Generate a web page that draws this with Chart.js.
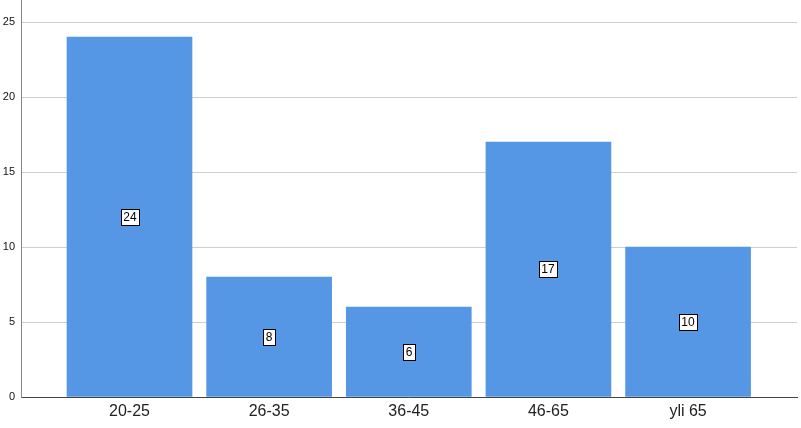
<!DOCTYPE html>
<html>
<head>
<meta charset="utf-8">
<script src="https://cdn.jsdelivr.net/npm/chart.js@4/dist/chart.umd.min.js"></script>
<style>
  html, body { margin: 0; padding: 0; background: #fff; }
  #wrap { width: 801px; height: 428px; }
</style>
</head>
<body>
<div id="wrap"><canvas id="chart" width="801" height="428"></canvas></div>
<script>
"use strict";
// age groups and counts
const categories = ['20-25', '26-35', '36-45', '46-65', 'yli 65'];
const counts = [24, 8, 6, 17, 10];
const yTicks = [0, 5, 10, 15, 20, 25];

// label in the middle of each bar: white box with black border
const boxLabels = {
  id: 'boxLabels',
  afterDatasetsDraw(chart) {
    const ctx = chart.ctx;
    const meta = chart.getDatasetMeta(0);
    const area = chart.chartArea;
    ctx.save();
    // y axis line runs up to the top edge
    ctx.strokeStyle = '#888';
    ctx.lineWidth = 1;
    ctx.beginPath();
    ctx.moveTo(Math.round(area.left) + 0.5, 0);
    ctx.lineTo(Math.round(area.left) + 0.5, area.top + 1);
    ctx.stroke();

    ctx.font = '12px "Liberation Sans", Arial, sans-serif';
    ctx.textAlign = 'center';
    ctx.textBaseline = 'middle';
    meta.data.forEach((bar, i) => {
      const txt = String(counts[i]);
      const cx = Math.round(bar.x);
      const cy = Math.round((bar.y + bar.base) / 2);
      const w = Math.round(ctx.measureText(txt).width) + 5;
      const h = 16;
      ctx.fillStyle = '#fff';
      ctx.fillRect(cx - w / 2, cy - h / 2, w, h);
      ctx.strokeStyle = '#000';
      ctx.lineWidth = 1;
      ctx.strokeRect(Math.round(cx - w / 2) + 0.5, cy - h / 2 + 0.5, w, h);
      ctx.fillStyle = '#000';
      ctx.fillText(txt, cx, cy + 1);
    });
    ctx.restore();
  }
};

const ctx = document.getElementById('chart').getContext('2d');
new Chart(ctx, {
  type: 'bar',
  data: {
    datasets: [{
      data: counts.map((v, i) => ({ x: i, y: v })),
      backgroundColor: '#5596e5',
      borderWidth: 0,
      barThickness: 125
    }]
  },
  options: {
    responsive: false,
    animation: false,
    layout: { padding: { left: 0, right: 4, top: 0, bottom: 0 } },
    plugins: { legend: { display: false }, tooltip: { enabled: false } },
    scales: {
      x: {
        type: 'linear',
        offset: false,
        min: -0.777,
        max: 4.78,
        afterBuildTicks(scale) {
          scale.ticks = categories.map((c, i) => ({ value: i }));
        },
        afterFit(scale) { scale.height = 31; },
        grid: { display: false, drawTicks: false },
        border: { display: true, color: '#444', width: 1 },
        ticks: {
          callback: (v) => categories[v],
          color: '#222',
          font: { family: '"Liberation Sans", Arial, sans-serif', size: 16 },
          padding: 5,
          maxRotation: 0,
          autoSkip: false
        }
      },
      y: {
        min: 0,
        max: 26.05,
        afterBuildTicks(scale) {
          scale.ticks = yTicks.map(v => ({ value: v }));
        },
        afterFit(scale) { scale.width = 21; },
        grid: { color: '#cfcfcf', drawTicks: false, lineWidth: 1 },
        border: { display: true, color: '#888', width: 1 },
        ticks: {
          color: '#111',
          font: { family: '"Liberation Sans", Arial, sans-serif', size: 11, lineHeight: 0.05 },
          padding: 6
        }
      }
    }
  },
  plugins: [boxLabels]
});
</script>
</body>
</html>
